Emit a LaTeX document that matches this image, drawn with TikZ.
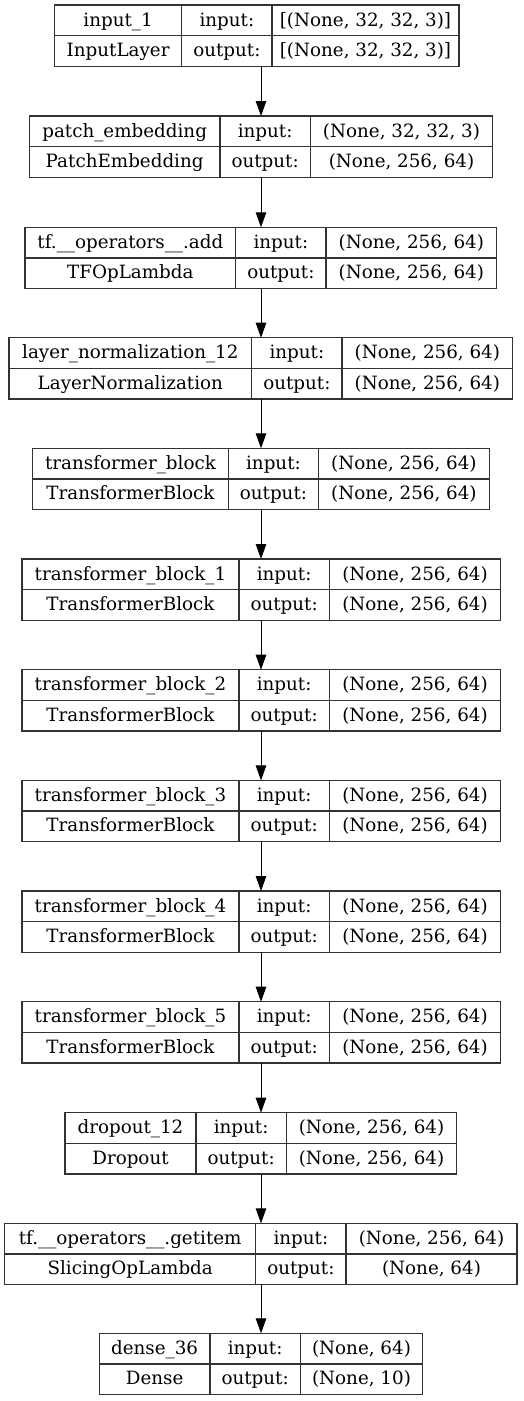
\documentclass[tikz,border=0pt]{standalone}
\usepackage{fontspec}
\setmainfont{DejaVu Serif}
\usetikzlibrary{arrows.meta}
\definecolor{boxc}{HTML}{333333}
\tikzset{
  boxline/.style={draw=boxc, line width=1.3pt},
  lbl/.style={anchor=base, inner sep=0pt, font=\fontsize{18.3}{20}\selectfont},
  arr/.style={draw=black, line width=1pt, -{Triangle[length=15pt,width=10.5pt]}},
}
% #1 name, #2 top, #3 left, #4 col1, #5 right, #6 layer name, #7 class, #8 input, #9 output
\newcommand\lbox[9]{%
  \node[boxline, anchor=north west, inner sep=0pt, outer sep=0pt, minimum width={(#5-#3)*1pt}, minimum height=61.3pt] (#1) at (#3,#2) {};
  \draw[boxline] (#4,#2) -- (#4,{#2+61.3});
  \draw[boxline] ({#4+90.3},#2) -- ({#4+90.3},{#2+61.3});
  \draw[boxline] (#3,{#2+30.65}) -- (#5,{#2+30.65});
  \node[lbl] (#1-n) at ({(#3+#4)/2},{#2+21}) {#6};
  \node[lbl] (#1-c) at ({(#3+#4)/2},{#2+51.5}) {#7};
  \node[lbl] (#1-il) at ({#4+45.15},{#2+21}) {input:};
  \node[lbl] (#1-ol) at ({#4+45.15},{#2+51.5}) {output:};
  \node[lbl] (#1-i) at ({(#4+90.3+#5)/2},{#2+21}) {#8};
  \node[lbl] (#1-o) at ({(#4+90.3+#5)/2},{#2+51.5}) {#9};
}
\begin{document}
\begin{tikzpicture}[x=1pt,y=-1pt]
\useasboundingbox[fill=white] (0,0) rectangle (523,1401);
\coordinate (ax) at (261,0);
\lbox{b1}{5}{54.5}{181.7}{459}{input\_1}{InputLayer}{[(None, 32, 32, 3)]}{[(None, 32, 32, 3)]}
\lbox{b2}{116}{29.3}{220}{492.7}{patch\_embedding}{PatchEmbedding}{(None, 32, 32, 3)}{(None, 256, 64)}
\lbox{b3}{227.3}{25}{235.7}{496.7}{tf.\_\_operators\_\_.add}{TFOpLambda}{(None, 256, 64)}{(None, 256, 64)}
\lbox{b4}{337.7}{9}{251.7}{512.7}{layer\_normalization\_12}{LayerNormalization}{(None, 256, 64)}{(None, 256, 64)}
\lbox{b5}{448.3}{32.7}{228.3}{489.3}{transformer\_block}{TransformerBlock}{(None, 256, 64)}{(None, 256, 64)}
\lbox{b6}{559}{22}{239}{500.7}{transformer\_block\_1}{TransformerBlock}{(None, 256, 64)}{(None, 256, 64)}
\lbox{b7}{669.7}{22}{239}{500.7}{transformer\_block\_2}{TransformerBlock}{(None, 256, 64)}{(None, 256, 64)}
\lbox{b8}{780.4}{22}{239}{500.7}{transformer\_block\_3}{TransformerBlock}{(None, 256, 64)}{(None, 256, 64)}
\lbox{b9}{891}{22}{239}{500.7}{transformer\_block\_4}{TransformerBlock}{(None, 256, 64)}{(None, 256, 64)}
\lbox{b10}{1001.7}{22}{239}{500.7}{transformer\_block\_5}{TransformerBlock}{(None, 256, 64)}{(None, 256, 64)}
\lbox{b11}{1112.7}{65}{196}{456.7}{dropout\_12}{Dropout}{(None, 256, 64)}{(None, 256, 64)}
\lbox{b12}{1223.3}{4.7}{255.7}{517}{tf.\_\_operators\_\_.getitem}{SlicingOpLambda}{(None, 256, 64)}{(None, 64)}
\lbox{b13}{1333.3}{99.3}{210}{422.7}{dense\_36}{Dense}{(None, 64)}{(None, 10)}
\foreach \a/\b in {b1/b2,b2/b3,b3/b4,b4/b5,b5/b6,b6/b7,b7/b8,b8/b9,b9/b10,b10/b11,b11/b12,b12/b13}
  \draw[arr] (\a.south -| ax) -- (\b.north -| ax);
\end{tikzpicture}
\end{document}
